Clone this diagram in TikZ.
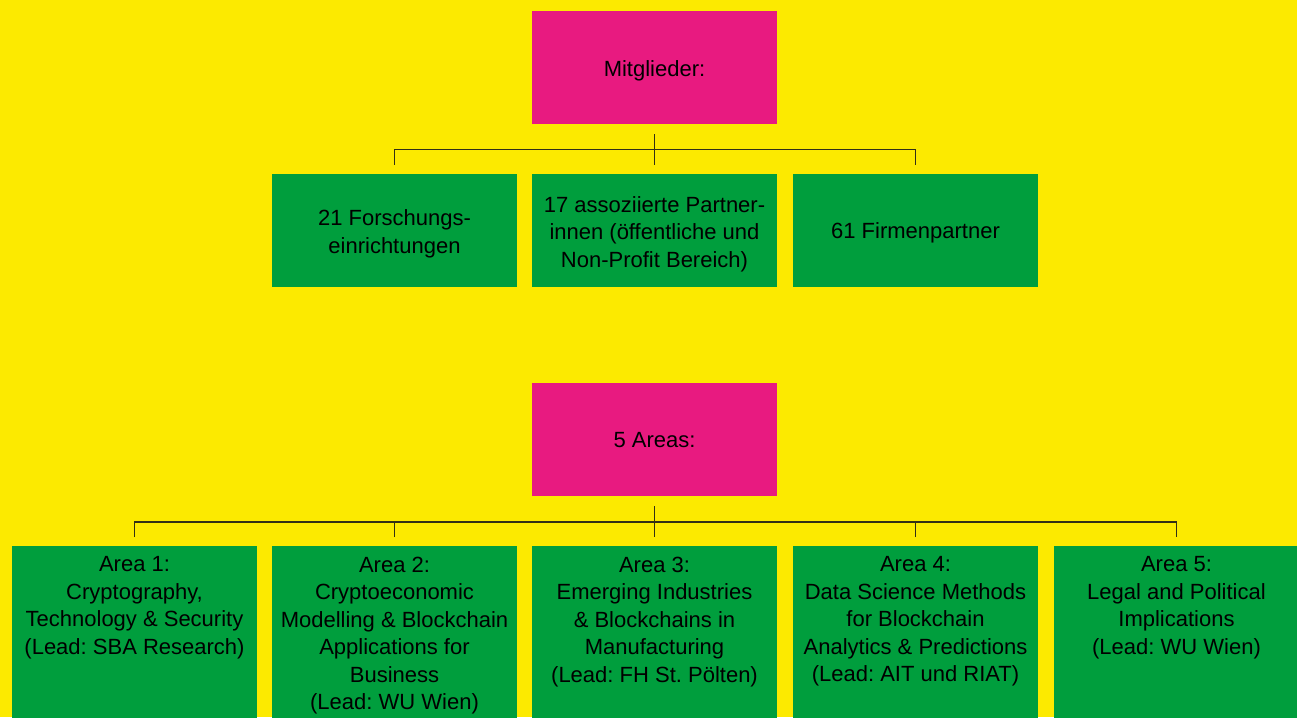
\documentclass[tikz,border=0pt]{standalone}
\usepackage{fontspec}
\setmainfont{Liberation Sans}
\usetikzlibrary{calc}
\definecolor{bgyellow}{RGB}{252,234,0}
\definecolor{hpink}{RGB}{232,26,128}
\definecolor{hgreen}{RGB}{0,158,61}
\definecolor{lnc}{RGB}{50,48,22}
\frenchspacing
\begin{document}
\begin{tikzpicture}[x=1pt,y=-1pt,
  txt/.style={font=\fontsize{22}{27.5}\selectfont, align=center, text=black, inner sep=0pt},
  pinkbox/.style={fill=hpink, minimum width=245pt, minimum height=113pt, inner sep=0pt},
  midbox/.style={fill=hgreen, minimum width=245pt, minimum height=113pt, inner sep=0pt},
  areabox/.style={fill=hgreen, minimum width=245pt, minimum height=180pt, inner sep=0pt, anchor=north},
  areatext/.style={anchor=north, txt},
  conn/.style={draw=lnc, line width=1.3pt}]
\fill[bgyellow] (0,0) rectangle (1297,717);
\useasboundingbox (0,0) rectangle (1297,717);
\begin{scope}
\clip (0,0) rectangle (1297,717);
% top part
\node[pinkbox] (m) at (654.5,67.5) {};
\node[txt] (mt) at ($(m.center)+(0,3)$) {Mitglieder:};
\node[midbox] (f1) at (394.5,230.5) {};
\node[midbox] (f2) at (654.5,230.5) {};
\node[midbox] (f3) at (915.5,230.5) {};
\node[txt] (f1t) at ($(f1.center)+(0,3.5)$) {21 Forschungs-\\einrichtungen};
\node[txt] (f2t) at ($(f2.center)+(0,3.5)$) {17 assoziierte Partner-\\innen (öffentliche und\\Non-Profit Bereich)};
\node[txt] (f3t) at ($(f3.center)+(0,2.5)$) {61 Firmenpartner};
% bottom part
\node[pinkbox] (a) at (654.5,439.5) {};
\node[txt] (at) at ($(a.center)+(0,1)$) {5 Areas:};
\node[areabox] (b1) at (134.5,546) {};
\node[areabox] (b2) at (394.5,546) {};
\node[areabox] (b3) at (654.5,546) {};
\node[areabox] (b4) at (915.5,546) {};
\node[areabox] (b5) at (1176.5,546) {};
\node[areatext] (t1) at ($(b1.north)+(0,10.5)$) {Area 1:\\Cryptography,\\Technology \& Security\\(Lead: SBA Research)};
\node[areatext] (t2) at ($(b2.north)+(0,10.5)$) {Area 2:\\Cryptoeconomic\\Modelling \& Blockchain\\Applications for\\Business\\(Lead: WU Wien)};
\node[areatext] (t3) at ($(b3.north)+(0,10.5)$) {Area 3:\\Emerging Industries\\\& Blockchains in\\Manufacturing\\(Lead: FH St. Pölten)};
\node[areatext] (t4) at ($(b4.north)+(0,10.5)$) {Area 4:\\Data Science Methods\\for Blockchain\\Analytics \& Predictions\\(Lead: AIT und RIAT)};
\node[areatext] (t5) at ($(b5.north)+(0,10.5)$) {Area 5:\\Legal and Political\\Implications\\(Lead: WU Wien)};
\end{scope}
% connectors top
\coordinate (mj) at ($(m.south)+(0,10)$);
\draw[conn] (mj) -- ($(f2.north)+(0,-9)$);
\draw[conn] ($(f1.north)+(0,-9)$) -- ($(f1.north)+(0,-24)$) -| ($(f3.north)+(0,-9)$);
% connectors bottom
\coordinate (aj) at ($(a.south)+(0,10)$);
\draw[conn] (aj) -- ($(b3.north)+(0,-9)$);
\draw[conn] ($(b1.north)+(0,-9)$) -- ($(b1.north)+(0,-24)$) -| ($(b5.north)+(0,-9)$);
\draw[conn] ($(b2.north)+(0,-9)$) -- ($(b2.north)+(0,-24)$);
\draw[conn] ($(b4.north)+(0,-9)$) -- ($(b4.north)+(0,-24)$);
\end{tikzpicture}
\end{document}
